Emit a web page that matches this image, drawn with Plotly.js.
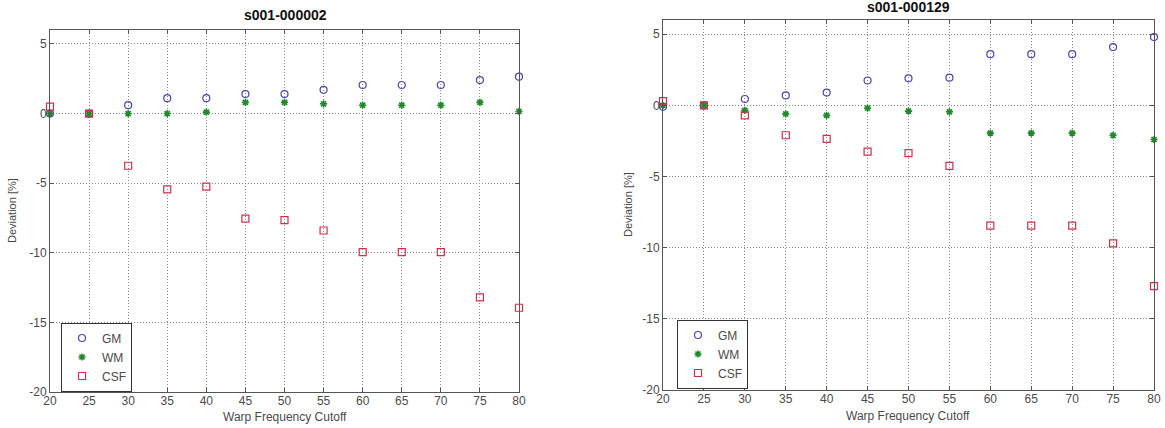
<!DOCTYPE html>
<html>
<head>
<meta charset="utf-8">
<script src="https://cdn.plot.ly/plotly-3.0.1.min.js"></script>
<style>html,body{margin:0;padding:0;background:#fff;}#chart{width:1165px;height:428px;}</style>
</head>
<body>
<div id="chart"></div>
<script>
// Warp frequency cutoffs (x)
const cutoffs = [20, 25, 30, 35, 40, 45, 50, 55, 60, 65, 70, 75, 80];

// Subject s001-000002
const titleA = "s001-000002";
const gmA  = [0.0, 0.0, 0.6, 1.1, 1.1, 1.4, 1.4, 1.7, 2.05, 2.05, 2.05, 2.4, 2.65];
const wmA  = [0.0, 0.0, 0.0, 0.0, 0.1, 0.8, 0.8, 0.7, 0.6, 0.6, 0.6, 0.8, 0.15];
const csfA = [0.5, 0.0, -3.75, -5.45, -5.25, -7.55, -7.65, -8.4, -9.95, -9.95, -9.95, -13.2, -13.95];

// Subject s001-000129
const titleB = "s001-000129";
const gmB  = [-0.1, 0.0, 0.45, 0.7, 0.9, 1.75, 1.9, 1.95, 3.6, 3.6, 3.6, 4.1, 4.8];
const wmB  = [0.0, 0.0, -0.35, -0.6, -0.7, -0.2, -0.4, -0.45, -1.95, -1.95, -1.95, -2.1, -2.4];
const csfB = [0.3, 0.0, -0.7, -2.1, -2.35, -3.25, -3.35, -4.25, -8.45, -8.45, -8.45, -9.7, -12.7];

const seriesNames = ["GM", "WM", "CSF"];
const xTicks = [20, 25, 30, 35, 40, 45, 50, 55, 60, 65, 70, 75, 80];
const yTicks = [-20, -15, -10, -5, 0, 5];
const xTitle = "Warp Frequency Cutoff";
const yTitle = "Deviation [%]";

const styles = [
  {symbol: "circle-open", color: "#4747b0", size: 7, lw: 1.2},
  {symbol: "asterisk-open", color: "#1f8a2a", size: 6, lw: 1.6},
  {symbol: "square-open", color: "#d0304f", size: 7, lw: 1.2}
];

function mk(y, i, xa, ya, leg) {
  const s = styles[i];
  return {
    x: cutoffs, y: y, type: "scatter", mode: "markers", name: seriesNames[i],
    xaxis: xa, yaxis: ya, legend: leg, cliponaxis: false,
    marker: {symbol: s.symbol, size: s.size, color: s.color, line: {color: s.color, width: s.lw}}
  };
}

const traces = [
  mk(gmA, 0, "x", "y", "legend"), mk(wmA, 1, "x", "y", "legend"), mk(csfA, 2, "x", "y", "legend"),
  mk(gmB, 0, "x2", "y2", "legend2"), mk(wmB, 1, "x2", "y2", "legend2"), mk(csfB, 2, "x2", "y2", "legend2")
];

const W = 1165, H = 428;
const font = "Liberation Sans, Arial, sans-serif";
const common = {
  showgrid: true, gridcolor: "#8a8a8a", griddash: "1px,2px", gridwidth: 1, zeroline: false,
  showline: true, linecolor: "#555", linewidth: 1, mirror: "ticks", ticks: "inside", ticklen: 4,
  tickcolor: "#555", tickfont: {family: font, size: 12, color: "#4a4a4a"}
};
function axisX(dom, anchor) {
  return Object.assign({domain: dom, anchor: anchor, range: [20, 80], tickvals: xTicks,
    ticktext: xTicks.map(String), ticklabelstandoff: -2}, common);
}
function axisY(dom, anchor) {
  return Object.assign({domain: dom, anchor: anchor, range: [-20, 6], tickvals: yTicks,
    ticktext: yTicks.map(String)}, common);
}

function ann(text, x, y, opts) {
  return Object.assign({text: text, x: x / W, y: 1 - y / H, xref: "paper", yref: "paper",
    showarrow: false, xanchor: "center", yanchor: "middle",
    font: {family: font, size: 12, color: "#4a4a4a"}}, opts || {});
}

const legendBase = {
  xanchor: "left", yanchor: "middle", bgcolor: "#fff", bordercolor: "#333", borderwidth: 1,
  font: {family: font, size: 12, color: "#4a4a4a"}, itemwidth: 30, tracegroupgap: 0
};

const layout = {
  width: W, height: H, margin: {l: 0, r: 0, t: 0, b: 0},
  paper_bgcolor: "#fff", plot_bgcolor: "#fff",
  xaxis: axisX([50 / W, 519 / W], "y"),
  yaxis: axisY([36 / H, 398 / H], "x"),
  xaxis2: axisX([663 / W, 1154 / W], "y2"),
  yaxis2: axisY([38 / H, 408 / H], "x2"),
  legend: Object.assign({x: 61 / W, y: 1 - 357 / H}, legendBase),
  legend2: Object.assign({x: 677 / W, y: 1 - 354 / H}, legendBase),
  showlegend: true,
  annotations: [
    ann(titleA, 285, 15, {font: {family: font, size: 14, color: "#111", weight: "bold"}}),
    ann(titleB, 908, 7, {font: {family: font, size: 14, color: "#111", weight: "bold"}}),
    ann(xTitle, 285, 417),
    ann(xTitle, 908, 416),
    ann(yTitle, 12, 211, {textangle: -90, font: {family: font, size: 11, color: "#4a4a4a"}}),
    ann(yTitle, 628, 205, {textangle: -90, font: {family: font, size: 11, color: "#4a4a4a"}})
  ]
};

Plotly.newPlot("chart", traces, layout, {staticPlot: true, displayModeBar: false});
</script>
</body>
</html>
